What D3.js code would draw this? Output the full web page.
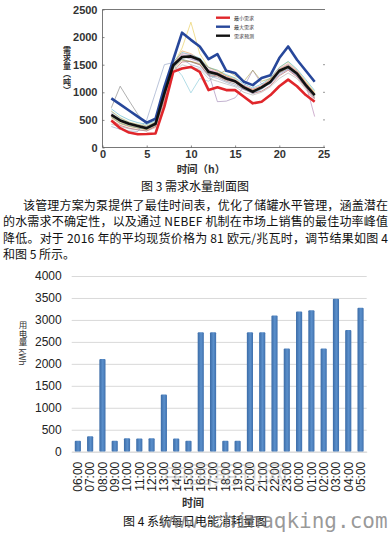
<!DOCTYPE html>
<html lang="zh">
<head>
    <meta charset="UTF-8">
    <title>需求水量剖面图</title>
    <style>
        body { margin: 0; background: #fff; }
        text { font-family: "Liberation Sans", Arial, "Noto Sans CJK SC", sans-serif; }
        .cjk { font-family: "Noto Sans CJK SC", sans-serif; }
        .vert { writing-mode: vertical-rl; }
    </style>
</head>
<body></body>
<script src="https://cdn.jsdelivr.net/npm/d3@7"></script>
<script>
    // ---- fig 3 data (hourly demand, tonnes) ----
    const hours = [1,2,3,4,5,6,7,8,9,10,11,12,13,14,15,16,17,18,19,20,21,22,23,24];
    const minDemand = [490,350,270,240,245,255,740,1370,1430,1460,1370,1040,1090,1040,1040,920,800,830,950,1110,1230,1110,950,830];
    const maxDemand = [890,780,670,560,450,520,1100,1590,2080,1950,1830,1600,1690,1390,1350,1190,1130,1260,1310,1620,1830,1590,1390,1190];
    const forecast = [590,490,430,390,350,430,980,1490,1640,1650,1590,1370,1330,1250,1200,1090,1010,1090,1190,1390,1460,1340,1130,950];
    const samples = [
        [720,1110,850,600,420,520,1050,1450,1600,1550,1500,1300,1280,1200,1150,1050,1000,1100,1200,1350,1450,1300,1150,950],
        [560,450,400,360,330,420,950,1500,1800,2270,1700,1450,1400,1300,1250,1100,1050,1100,1250,1450,1550,1400,1200,1000],
        [650,520,450,400,380,450,1000,1500,1300,990,1250,1200,1350,1280,1180,1080,980,1050,1200,1400,1500,1350,1150,950],
        [600,480,420,380,350,430,950,1450,1650,1600,1550,1350,830,840,900,1100,1400,1150,1150,1350,1420,1300,1100,900],
        [540,430,380,350,320,380,900,1480,1750,1700,1600,1450,1380,1300,1220,1120,1050,1120,1230,1420,1500,1380,1180,980],
        [620,500,440,400,370,440,1000,1520,1680,1620,1560,1400,1350,1270,1210,1100,1030,1080,1200,1380,1480,1360,1150,560],
        [500,400,350,320,300,380,850,1380,1550,1560,1500,1320,1300,1220,1180,1060,980,1020,1120,1300,1400,1280,1080,880],
        [700,580,500,450,420,480,1050,1550,1720,1680,1620,1450,1400,1320,1260,1150,1080,1150,1260,1450,1560,1420,1230,1030],
        [380,330,300,290,500,1000,1500,1540,1600,1500,1450,1300,1250,1180,1120,1050,980,1060,1160,1320,1420,1300,1100,900],
        [580,470,410,370,340,410,930,1470,1700,1680,1580,1420,1360,1280,1230,1120,1060,1120,1240,1430,1520,1390,1170,970],
        [660,540,460,420,390,460,980,1420,1580,1560,1520,1380,1320,1400,1300,1200,1400,1200,1250,1360,1440,1330,1120,920],
        [550,440,390,355,330,400,920,1460,1620,1640,1560,1330,1320,1240,1190,1080,1000,1090,1190,1370,1470,1340,1140,940],
        [420,380,340,320,300,360,800,1350,1500,1450,1420,1250,1200,1150,1100,1000,950,1000,1100,1250,1350,1250,1050,850]
    ];
    const sampleColors = ["#7a7a7a","#e6c84a","#7fc6d6","#9a7fb0","#e8904a","#b07cb0","#b5474a","#4fb3c8","#8a9cc0","#d98fb5","#a8a04a","#5aa59a","#aaaaaa"];
    const legendLabels = ["最小需求", "最大需求", "需求预测"];

    // ---- fig 4 data (hourly power use, kWh) ----
    const times = ["06:00","07:00","08:00","09:00","10:00","11:00","12:00","13:00","14:00","15:00","16:00","17:00",
                   "18:00","19:00","20:00","21:00","22:00","23:00","00:00","01:00","02:00","03:00","04:00","05:00"];
    const power = [250,350,2110,250,305,300,305,1300,300,250,2720,2720,250,250,2720,2720,3100,2350,3190,3220,2350,3480,2770,3280];
    const powerTicks = [0,500,1000,1500,2000,2500,3000,3500,4000];

    const paragraph = [
        "该管理方案为泵提供了最佳时间表，优化了储罐水平管理，涵盖潜在",
        "的水需求不确定性，以及通过 NEBEF 机制在市场上销售的最佳功率峰值",
        "降低。对于 2016 年的平均现货价格为 81 欧元/兆瓦时，调节结果如图 4",
        "和图 5 所示。"
    ];

    let width = 391;
    let height = 533;

    let svg = d3.select("body")
                .append("svg")
                .attr("width", width)
                .attr("height", height);

    // ================= figure 3 =================
    let x = d3.scaleLinear().domain([0, 25]).range([102.5, 323.5]);
    let y = d3.scaleLinear().domain([0, 2500]).range([147.5, 9.5]);

    let line = d3.line()
                 .x((d, i) => x(hours[i]))
                 .y(d => y(d));

    let fig3 = svg.append("g");

    fig3.selectAll(".sample")
       .data(samples)
       .enter()
       .append("path")
       .attr("d", line)
       .style("fill", "none")
       .style("stroke", (d, i) => sampleColors[i])
       .style("stroke-width", 0.7)
       .style("opacity", 0.85);

    let mainSeries = [minDemand, maxDemand, forecast];
    let mainColors = ["#e0262b", "#27479a", "#111111"];

    fig3.selectAll(".main")
       .data(mainSeries)
       .enter()
       .append("path")
       .attr("d", line)
       .style("fill", "none")
       .style("stroke", (d, i) => mainColors[i])
       .style("stroke-width", 2.6)
       .style("stroke-linejoin", "round");

    // axes
    let xAxis = fig3.append("g")
       .attr("transform", "translate(0,147.5)")
       .call(d3.axisBottom(x).tickValues([0,5,10,15,20,25]).tickFormat(d3.format("d")).tickSizeInner(-2).tickSizeOuter(0).tickPadding(3));
    let yAxis = fig3.append("g")
       .attr("transform", "translate(102.5,0)")
       .call(d3.axisLeft(y).tickValues([0,500,1000,1500,2000,2500]).tickFormat(d3.format("d")).tickSizeInner(-2).tickSizeOuter(0).tickPadding(5));
    [xAxis, yAxis].forEach(a => {
        a.select(".domain").attr("d", null);
        a.selectAll("line").style("stroke", "#888");
        a.selectAll("text")
         .style("font-size", "11px")
         .style("font-weight", "bold")
         .style("fill", "#333")
         .style("font-family", "Liberation Sans, Arial, sans-serif");
    });

    fig3.append("path")
       .attr("d", "M102.5,9.5H325M102.5,9.5V147.5H325")
       .style("fill", "none")
       .style("stroke", "#555")
       .style("stroke-width", 0.8);

    fig3.selectAll(".rtick")
       .data([500, 1000, 1500])
       .enter()
       .append("line")
       .attr("x1", 323).attr("x2", 325)
       .attr("y1", d => y(d)).attr("y2", d => y(d))
       .style("stroke", "#999");

    fig3.append("text")
       .attr("class", "cjk")
       .attr("x", 201).attr("y", 172.5)
       .attr("text-anchor", "middle")
       .style("font-size", "10.5px")
       .style("font-weight", "bold")
       .style("fill", "#333")
       .text("时间（h）");

    // y label, written vertically
    fig3.append("text")
        .attr("class", "cjk vert")
        .attr("x", 67).attr("y", 46)
        .style("font-size", "8px")
        .style("font-weight", "bold")
        .style("fill", "#333")
        .text("需求量（吨）");

    // legend
    let legend = fig3.append("g");
    legend.selectAll("line")
          .data(mainColors)
          .enter()
          .append("line")
          .attr("x1", 216).attr("x2", 230)
          .attr("y1", (d, i) => 17.7 + i * 9).attr("y2", (d, i) => 17.7 + i * 9)
          .style("stroke", d => d)
          .style("stroke-width", 2.4);
    legend.selectAll("text")
          .data(legendLabels)
          .enter()
          .append("text")
          .attr("class", "cjk")
          .attr("x", 234).attr("y", (d, i) => 19.5 + i * 9)
          .style("font-size", "5px")
          .style("fill", "#333")
          .text(d => d);

    // ================= captions & paragraph =================
    svg.append("text").attr("class", "cjk")
       .attr("x", 195).attr("y", 191)
       .attr("text-anchor", "middle")
       .style("font-size", "12px")
       .style("fill", "#111")
       .text("图 3  需求水量剖面图");

    let lineStarts = [23, 3, 3, 3];
    let lineY = [209.5, 226, 242.5, 259];
    paragraph.forEach((t, i) => {
        let txt = svg.append("text").attr("class", "cjk")
            .attr("x", lineStarts[i]).attr("y", lineY[i])
            .style("font-size", "12px")
            .style("fill", "#111")
            .text(t);
        if (i < 3) {
            txt.attr("textLength", 388 - lineStarts[i]).attr("lengthAdjust", "spacing");
        }
    });

    // ================= figure 4 =================
    let xb = d3.scaleBand().domain(times).range([71.7, 366.7]).paddingInner(0.5).paddingOuter(0.25);
    let yb = d3.scaleLinear().domain([0, 4000]).range([451.7, 276]);

    let defs = svg.append("defs");
    let grad = defs.append("linearGradient").attr("id", "barGrad").attr("x1", "0").attr("x2", "1").attr("y1", "0").attr("y2", "0");
    grad.append("stop").attr("offset", "0%").attr("stop-color", "#3b6ba6");
    grad.append("stop").attr("offset", "55%").attr("stop-color", "#5b90cc");
    grad.append("stop").attr("offset", "100%").attr("stop-color", "#3e6fac");

    let fig4 = svg.append("g");

    let grid = fig4.append("g")
        .attr("transform", "translate(71.7,0)")
        .call(d3.axisLeft(yb).tickValues(powerTicks).tickFormat(d3.format("d")).tickSize(-295).tickPadding(10));
    grid.select(".domain").remove();
    grid.selectAll("line").style("stroke", "#d9d9d9").style("stroke-width", 1);
    grid.selectAll("text").style("font-size", "12px").style("fill", "#222").style("font-family", "Liberation Sans, Arial, sans-serif");

    fig4.selectAll(".bar")
          .data(power)
          .enter()
          .append("rect")
          .attr("x", (d, i) => xb(times[i]))
          .attr("y", d => yb(d))
          .attr("width", xb.bandwidth())
          .attr("height", d => yb(0) - yb(d))
          .attr("rx", 1)
          .style("fill", "url(#barGrad)");

    let xAxisB = fig4.append("g")
        .attr("transform", "translate(0,451.7)")
        .call(d3.axisBottom(xb).tickSize(0).tickPadding(0));
    xAxisB.select(".domain").style("stroke", "#d9d9d9");
    xAxisB.selectAll("text")
          .attr("transform", "rotate(-90)")
          .attr("x", -10).attr("y", 0).attr("dy", "0.36em")
          .attr("text-anchor", "end")
          .style("font-size", "12px")
          .style("fill", "#222")
          .style("font-family", "Liberation Sans, Arial, sans-serif");

    fig4.append("text").attr("class", "cjk")
          .attr("x", 193).attr("y", 507)
          .attr("text-anchor", "middle")
          .style("font-size", "11px")
          .style("font-weight", "bold")
          .style("fill", "#333")
          .text("时间");

    fig4.append("text")
        .attr("class", "cjk vert")
        .attr("x", 23).attr("y", 321)
        .style("font-size", "8.5px")
        .style("fill", "#333")
        .text("用电量 kWh");

    svg.append("text").attr("class", "cjk")
       .attr("x", 195).attr("y", 526)
       .attr("text-anchor", "middle")
       .style("font-size", "12px")
       .style("fill", "#111")
       .text("图 4  系统每日电能消耗量图");

    // watermarks
    svg.append("text").attr("class", "cjk")
       .attr("x", 163).attr("y", 484)
       .style("font-size", "25px")
       .style("fill", "rgba(150,150,150,0.35)")
       .text("中国期刊网");
    svg.append("text")
       .attr("x", 160).attr("y", 528)
       .style("font-family", "DejaVu Sans Mono, monospace")
       .style("font-size", "21px")
       .style("fill", "rgba(120,120,120,0.75)")
       .text("www.chinaqking.com");
</script>
</html>
